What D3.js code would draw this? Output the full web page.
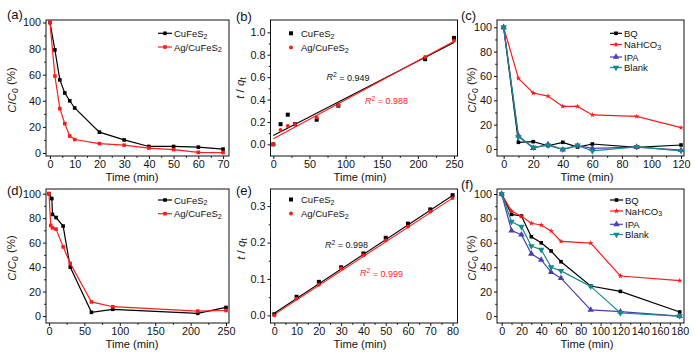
<!DOCTYPE html>
<html><head><meta charset="utf-8">
<script src="https://cdn.jsdelivr.net/npm/d3@7"></script>
<style>
html,body{margin:0;padding:0;background:#fff;}
svg text{font-family:"Liberation Sans",Arial,sans-serif;}
</style></head>
<body>
<script>
// ---------- DATA ----------
const aTime = [0,2,4,6,8,10,20,30,40,50,60,70];
const aCu   = [100,79,56,46,40,34.5,16,10,5,5,4.5,3];
const aAg   = [100,59,34,22.5,13,10.3,7.2,6,3.8,2.6,0.5,0.3];

const bTime = [0,10,20,30,60,90,210,250];
const bCu   = [0,0.18,0.265,0.18,0.22,0.345,0.76,0.95];
const bAg   = [0,0.128,0.164,0.18,0.24,0.35,0.78,0.925];
const bFitCu = [[0,0.08],[250,0.91]];
const bFitAg = [[0,0.05],[250,0.92]];
const bR2 = ["0.949","0.988"];

const cTime  = [0,10,20,30,40,50,60,90,120];
const cBQ    = [100,5.5,6,2.7,5.5,1.6,4.1,1.4,3.3];
const cNa    = [100,58,46,43.5,35,35,28,26.8,17.5];
const cIPA   = [100,11,0.8,3.8,-0.5,2.7,0.5,1.6,-1];
const cBlank = [100,10,1.4,3,-0.3,3,-1.6,1.8,-1.5];

const dTimeCu = [0,4,5,10,20,30,60,90,210,250];
const dCu     = [100,96,83,80.5,73.5,40,3,5.5,2.2,7];
const dTimeAg = [0,2.5,5,10,20,30,60,90,210,250];
const dAg     = [100,74,72,71,56.5,43,11.5,7.6,4,4.5];

const eTime = [0,10,20,30,40,50,60,70,80];
const eCu   = [0.003,0.051,0.092,0.132,0.170,0.213,0.252,0.291,0.330];
const eAg   = [0,0.046,0.084,0.129,0.165,0.206,0.244,0.285,0.322];
const eFitCu = [[0,0.006],[80,0.329]];
const eFitAg = [[0,0.002],[80,0.322]];
const eR2 = ["0.998","0.999"];

const fTime  = [0,10,20,30,40,50,60,90,120,180];
const fBQ    = [100,83.3,82,65,60,53.3,44.5,24.6,20.2,3.3];
const fNa    = [100,86,81.7,76,74.6,69.7,61.2,59.8,32.8,29];
const fIPA   = [100,70,66.7,51,46,36,31,5,3.6,0];
const fBlank = [100,77.3,73.2,57.4,54.4,40,37,24.3,2.5,0];

const ticksPct = [0,20,40,60,80,100];
const ticksA = [0,10,20,30,40,50,60,70];
const ticksB = [0,50,100,150,200,250];
const ticksBy = [0,0.2,0.4,0.6,0.8,1.0];
const ticksC = [0,20,40,60,80,100,120];
const ticksD = [0,50,100,150,200,250];
const ticksE = [0,10,20,30,40,50,60,70,80];
const ticksEy = [0,0.1,0.2,0.3];
const ticksF = [0,20,40,60,80,100,120,140,160,180];

// ---------- STYLE ----------
const RED = "#ff1a1a", BLK = "#000", IPA = "#4a3fb0", TEAL = "#17898b";

const svg = d3.select("body").append("svg").attr("width",695).attr("height",353);

function rich(sel, parts){
  let shift = 0;
  parts.forEach(p=>{
    const ts = sel.append("tspan").text(p.t);
    let target = p.sub ? 0.28 : p.sup ? -0.38 : 0;
    const dyEm = target - shift;
    if (dyEm !== 0) ts.attr("dy", dyEm + "em");
    shift = target;
    if (p.sub || p.sup) ts.attr("font-size","75%");
    if (p.it) ts.attr("font-style","italic");
  });
}

function midTicks(t){ const m=[]; for(let i=0;i<t.length-1;i++) m.push((t[i]+t[i+1])/2); return m; }

function panel(o){
  const g = svg.append("g");
  const x = d3.scaleLinear().domain(o.xd).range([o.l,o.r]);
  const y = d3.scaleLinear().domain(o.yd).range([o.b,o.t]);
  g.append("g").attr("transform",`translate(0,${o.b})`)
    .call(d3.axisBottom(x).tickValues(o.xt).tickSize(3).tickSizeOuter(0).tickPadding(1.5).tickFormat(o.xf||d3.format("d")));
  g.append("g").attr("transform",`translate(0,${o.b})`)
    .call(d3.axisBottom(x).tickValues(midTicks(o.xt)).tickSize(1.8).tickSizeOuter(0).tickFormat(""));
  g.append("g").attr("transform",`translate(${o.l},0)`)
    .call(d3.axisLeft(y).tickValues(o.yt).tickSize(3).tickSizeOuter(0).tickPadding(2).tickFormat(o.yf||d3.format("d")));
  g.append("g").attr("transform",`translate(${o.l},0)`)
    .call(d3.axisLeft(y).tickValues(midTicks(o.yt)).tickSize(1.8).tickSizeOuter(0).tickFormat(""));
  g.selectAll(".domain").remove();
  g.selectAll(".tick line").attr("stroke","#111");
  g.selectAll(".tick text").attr("font-size","10.8px").attr("fill","#111");
  g.append("rect").attr("x",o.l).attr("y",o.t).attr("width",o.r-o.l).attr("height",o.b-o.t)
    .attr("fill","none").attr("stroke","#111").attr("stroke-width",1);
  const xt = g.append("text").attr("x",o.xtx).attr("y",o.b+24.5).attr("text-anchor","middle")
    .attr("font-size","11.2px").attr("fill","#111");
  rich(xt,[{t:"Time (min)"}]);
  const yt = g.append("text").attr("transform",`translate(${o.ytx},${o.yty}) rotate(-90)`)
    .attr("text-anchor","middle").attr("font-size","11.5px").attr("fill","#222");
  rich(yt, o.ytitle);
  g.append("text").attr("x",o.lx).attr("y",o.ly).attr("font-size","13px").attr("fill","#111").text(o.label);
  return {g,x,y};
}

const pctTitle = [{t:"C",it:true},{t:"/"},{t:"C",it:true},{t:"0",sub:true},{t:" (%)"}];
const tqTitle = [{t:"t",it:true},{t:" / "},{t:"q",it:true},{t:"t",sub:true}];

const sym = {
  sq: d3.symbol().type(d3.symbolSquare).size(13)(),
  sqB: d3.symbol().type(d3.symbolSquare).size(16)(),
  star: d3.symbol().type(d3.symbolStar).size(10)(),
  tri: d3.symbol().type(d3.symbolTriangle).size(18)(),
  circ: d3.symbol().type(d3.symbolCircle).size(12)()
};

function series(p, xs, ys, color, marker, withLine, rot){
  const pts = xs.map((t,i)=>[t,ys[i]]);
  if(withLine){
    p.g.append("path").datum(pts).attr("fill","none").attr("stroke",color).attr("stroke-width",1.2)
      .attr("d", d3.line().x(d=>p.x(d[0])).y(d=>p.y(d[1])));
  }
  p.g.selectAll(null).data(pts).enter().append("path").attr("d",sym[marker])
    .attr("transform",d=>`translate(${p.x(d[0])},${p.y(d[1])})${rot?" rotate(180)":""}`)
    .attr("fill",color);
}
function fit(p, pts, color){
  p.g.append("path").datum(pts).attr("fill","none").attr("stroke",color).attr("stroke-width",1.1)
    .attr("d", d3.line().x(d=>p.x(d[0])).y(d=>p.y(d[1])));
}
function legendLine(p, x0, y0, parts, color, marker, rot, len){
  p.g.append("line").attr("x1",x0).attr("x2",x0+len).attr("y1",y0).attr("y2",y0).attr("stroke",color).attr("stroke-width",1.2);
  p.g.append("path").attr("d",sym[marker]).attr("transform",`translate(${x0+len/2},${y0})${rot?" rotate(180)":""}`).attr("fill",color);
  const t = p.g.append("text").attr("x",x0+len+2).attr("y",y0+3.5).attr("font-size","9.5px").attr("fill","#111");
  rich(t, parts);
}
function legendPt(p, x0, y0, parts, color, marker){
  p.g.append("path").attr("d",sym[marker]).attr("transform",`translate(${x0},${y0})`).attr("fill",color);
  const t = p.g.append("text").attr("x",x0+10).attr("y",y0+3.5).attr("font-size","9.5px").attr("fill","#111");
  rich(t, parts);
}
function r2(p, x0, y0, val, color){
  const t = p.g.append("text").attr("x",x0).attr("y",y0).attr("font-size","9px").attr("fill",color);
  rich(t,[{t:"R",it:true},{t:"2",sup:true},{t:" = "+val}]);
}

const cuParts = [{t:"CuFeS"},{t:"2",sub:true}];
const agParts = [{t:"Ag/CuFeS"},{t:"2",sub:true}];

// (a)
const pa = panel({l:46,r:229,t:20,b:156,xd:[-1.6,72.4],yd:[-2.3,101.9],xt:ticksA,yt:ticksPct,
  xtx:132,ytx:16,yty:90,ytitle:pctTitle,label:"(a)",lx:7,ly:19});
series(pa,aTime,aCu,BLK,"sq",true);
series(pa,aTime,aAg,RED,"sq",true);
legendLine(pa,158,33.3,cuParts,BLK,"sq",false,14);
legendLine(pa,158,47,agParts,RED,"sq",false,14);

// (b)
const pb = panel({l:270.5,r:457.5,t:20,b:156,xd:[-3.9,254.8],yd:[-0.104,1.11],xt:ticksB,yt:ticksBy,yf:d3.format(".1f"),
  xtx:360,ytx:244,yty:88,ytitle:tqTitle,label:"(b)",lx:236,ly:21});
fit(pb,bFitCu,BLK);
fit(pb,bFitAg,RED);
series(pb,bTime,bCu,BLK,"sqB",false);
series(pb,bTime,bAg,RED,"circ",false);
legendPt(pb,291,33.3,cuParts,BLK,"sqB");
legendPt(pb,291,47.5,agParts,RED,"circ");
r2(pb,326.5,80,bR2[0],"#111");
r2(pb,365,103.5,bR2[1],RED);

// (c)
const pc = panel({l:497,r:684,t:20,b:156,xd:[-4.5,122],yd:[-5.75,106],xt:ticksC,yt:ticksPct,
  xtx:587,ytx:476,yty:90,ytitle:pctTitle,label:"(c)",lx:461,ly:19.5});
series(pc,cTime,cBQ,BLK,"sq",true);
series(pc,cTime,cNa,RED,"star",true);
series(pc,cTime,cIPA,IPA,"tri",true);
series(pc,cTime,cBlank,TEAL,"tri",true,true);
legendLine(pc,610,33.3,[{t:"BQ"}],BLK,"sq",false,12);
legendLine(pc,610,44.5,[{t:"NaHCO"},{t:"3",sub:true}],RED,"star",false,12);
legendLine(pc,610,57,[{t:"IPA"}],IPA,"tri",false,12);
legendLine(pc,610,67.5,[{t:"Blank"}],TEAL,"tri",true,12);

// (d)
const pd = panel({l:46,r:229,t:189,b:323,xd:[-4.2,254.2],yd:[-5.7,103.8],xt:ticksD,yt:ticksPct,
  xtx:132,ytx:16,yty:258,ytitle:pctTitle,label:"(d)",lx:7,ly:195});
series(pd,dTimeCu,dCu,BLK,"sq",true);
series(pd,dTimeAg,dAg,RED,"sq",true);
legendLine(pd,158,200,cuParts,BLK,"sq",false,14);
legendLine(pd,158,213.7,agParts,RED,"sq",false,14);

// (e)
const pe = panel({l:270.5,r:457.5,t:189,b:323,xd:[-1.7,82.2],yd:[-0.021,0.347],xt:ticksE,yt:ticksEy,yf:d3.format(".1f"),
  xtx:360,ytx:245,yty:249,ytitle:tqTitle,label:"(e)",lx:236,ly:195});
fit(pe,eFitCu,BLK);
fit(pe,eFitAg,RED);
series(pe,eTime,eCu,BLK,"sqB",false);
series(pe,eTime,eAg,RED,"circ",false);
legendPt(pe,291,199.5,cuParts,BLK,"sqB");
legendPt(pe,291,213.5,agParts,RED,"circ");
r2(pe,325,247.5,eR2[0],"#111");
r2(pe,360,276,eR2[1],RED);

// (f)
const pf = panel({l:497,r:684,t:189,b:323,xd:[-4.7,184.3],yd:[-5.7,104.1],xt:ticksF,yt:ticksPct,
  xtx:587,ytx:476,yty:258,ytitle:pctTitle,label:"(f)",lx:461,ly:188.5});
series(pf,fTime,fBQ,BLK,"sq",true);
series(pf,fTime,fNa,RED,"star",true);
series(pf,fTime,fIPA,IPA,"tri",true);
series(pf,fTime,fBlank,TEAL,"tri",true,true);
legendLine(pf,610,200,[{t:"BQ"}],BLK,"sq",false,13);
legendLine(pf,610,211,[{t:"NaHCO"},{t:"3",sub:true}],RED,"star",false,13);
legendLine(pf,610,224.3,[{t:"IPA"}],IPA,"tri",false,13);
legendLine(pf,610,234.5,[{t:"Blank"}],TEAL,"tri",true,13);
</script>
</body></html>
